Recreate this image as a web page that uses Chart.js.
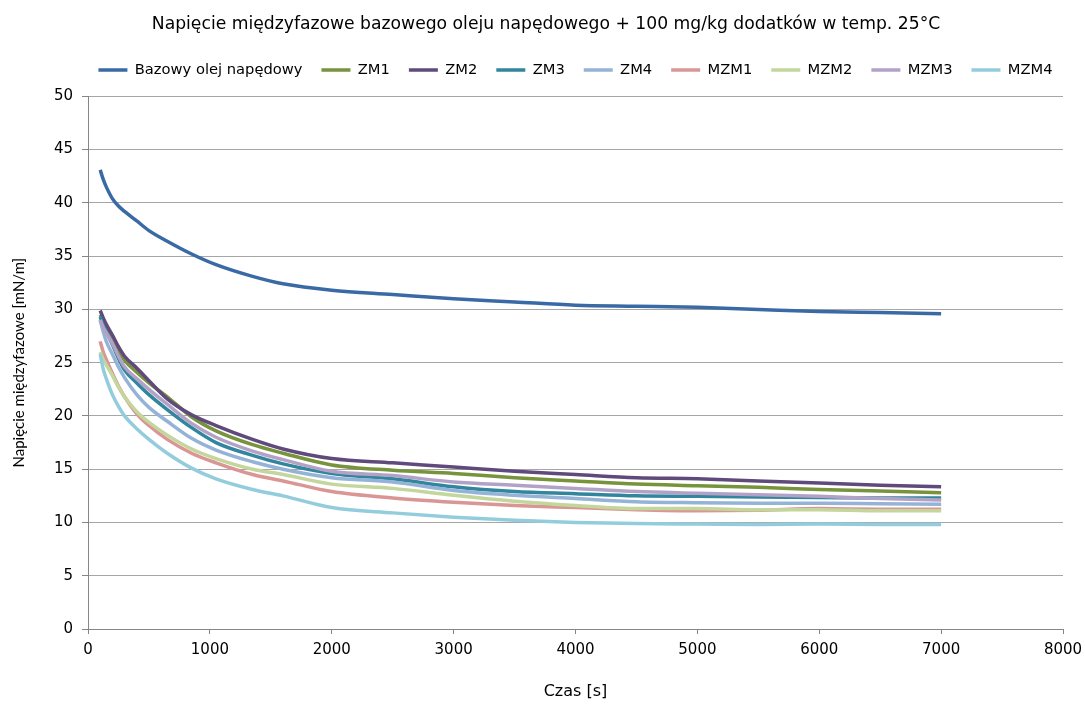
<!DOCTYPE html>
<html>
<head>
<meta charset="utf-8">
<script src="https://cdn.jsdelivr.net/npm/chart.js@4"></script>
<style>
  html, body { margin: 0; padding: 0; background: #fff; }
  #wrap { width: 1085px; height: 705px; }
</style>
</head>
<body>
<div id="wrap"><canvas id="chart" width="1085" height="705"></canvas></div>
<script>
// czas pomiaru [s]
const czas = [100, 125, 150, 200, 250, 300, 400, 500, 650, 850, 1050, 1350, 1600, 2000, 2500, 3000, 3500, 4000, 4500, 5000, 5500, 6000, 6500, 7000];

const bazowy = [43.1, 42.2, 41.5, 40.4, 39.7, 39.2, 38.3, 37.4, 36.4, 35.2, 34.2, 33.1, 32.4, 31.8, 31.4, 31.0, 30.7, 30.4, 30.3, 30.2, 30.0, 29.8, 29.7, 29.6];
const zm1 = [29.5, 28.9, 28.3, 27.3, 26.1, 25.2, 24.1, 23.1, 21.8, 19.9, 18.6, 17.3, 16.5, 15.4, 14.9, 14.6, 14.2, 13.9, 13.6, 13.45, 13.3, 13.1, 12.95, 12.8];
const zm2 = [29.9, 29.2, 28.6, 27.6, 26.5, 25.6, 24.5, 23.3, 21.6, 20.1, 19.1, 17.8, 16.9, 16.0, 15.6, 15.2, 14.8, 14.5, 14.2, 14.1, 13.9, 13.7, 13.5, 13.35];
const zm3 = [29.3, 28.5, 27.9, 26.7, 25.4, 24.3, 23.1, 22.0, 20.6, 18.9, 17.5, 16.3, 15.5, 14.6, 14.1, 13.35, 12.9, 12.7, 12.5, 12.45, 12.4, 12.35, 12.3, 12.3];
const zm4 = [29.0, 27.9, 27.0, 25.8, 24.6, 23.6, 22.0, 20.8, 19.5, 17.9, 16.8, 15.7, 15.0, 14.2, 13.8, 13.0, 12.55, 12.25, 11.95, 11.85, 11.8, 11.8, 11.75, 11.7];
const mzm1 = [27.0, 26.0, 25.3, 24.0, 22.8, 21.8, 20.2, 19.1, 17.8, 16.5, 15.6, 14.5, 13.9, 12.9, 12.3, 11.9, 11.6, 11.4, 11.2, 11.1, 11.15, 11.3, 11.25, 11.25];
const mzm2 = [26.0, 25.3, 24.8, 23.8, 22.7, 21.8, 20.4, 19.4, 18.2, 16.9, 16.0, 15.0, 14.5, 13.6, 13.2, 12.55, 12.0, 11.6, 11.3, 11.3, 11.2, 11.2, 11.1, 11.1];
const mzm3 = [29.0, 28.3, 27.8, 26.8, 25.6, 24.6, 23.5, 22.5, 21.1, 19.3, 18.0, 16.7, 15.9, 14.8, 14.4, 13.8, 13.5, 13.2, 12.9, 12.75, 12.6, 12.45, 12.25, 12.1];
const mzm4 = [25.8, 24.4, 23.5, 22.0, 20.9, 20.0, 18.8, 17.8, 16.5, 15.1, 14.1, 13.1, 12.5, 11.4, 10.9, 10.5, 10.2, 10.0, 9.9, 9.85, 9.8, 9.85, 9.8, 9.8];

const serie = [
    { label: 'Bazowy olej napędowy', data: bazowy, color: '#3A6AA6' },
    { label: 'ZM1', data: zm1, color: '#77933C' },
    { label: 'ZM2', data: zm2, color: '#604A7B' },
    { label: 'ZM3', data: zm3, color: '#31859C' },
    { label: 'ZM4', data: zm4, color: '#95B3D7' },
    { label: 'MZM1', data: mzm1, color: '#D99694' },
    { label: 'MZM2', data: mzm2, color: '#C3D69B' },
    { label: 'MZM3', data: mzm3, color: '#B3A2C7' },
    { label: 'MZM4', data: mzm4, color: '#93CDDD' }
];

const wideFont = '"DejaVu Sans", sans-serif';
const lato = 'Lato, "Open Sans", sans-serif';

const datasets = serie.map((s, i) => ({
    label: s.label,
    data: czas.map((t, k) => ({ x: t, y: s.data[k] })),
    borderColor: s.color,
    backgroundColor: s.color,
    borderWidth: 3.5,
    pointRadius: 0,
    pointStyle: 'line',
    cubicInterpolationMode: 'monotone',
    fill: false,
    order: serie.length - i   // kolejne serie rysowane na wierzchu
}));

// odstęp pod legendą + legenda wyśrodkowana nad obszarem wykresu
const legendGap = {
    id: 'legendGap',
    beforeInit(chart) {
        const fit = chart.legend.fit;
        chart.legend.fit = function () {
            fit.bind(chart.legend)();
            this.height += 9;
        };
    },
    beforeDraw(chart) {
        const area = chart.chartArea;
        const lg = chart.legend;
        const shift = (area.left + area.right) / 2 - (lg.left + lg.right) / 2;
        lg.left += shift;
        lg.right += shift;
        chart.titleBlock.left = 7;
        chart.titleBlock.right = chart.width;
    }
};

const ctx = document.getElementById('chart').getContext('2d');
new Chart(ctx, {
    type: 'line',
    data: { datasets },
    plugins: [legendGap],
    options: {
        responsive: false,
        animation: false,
        layout: { padding: { top: 14, right: 22, left: 0, bottom: 0 } },
        plugins: {
            title: {
                display: true,
                text: 'Napięcie międzyfazowe bazowego oleju napędowego + 100 mg/kg dodatków w temp. 25°C',
                color: '#000',
                font: { family: wideFont, size: 17.2, weight: 'normal' },
                padding: { top: 0, bottom: 9 }
            },
            legend: {
                display: true,
                labels: {
                    color: '#000',
                    font: { family: wideFont, size: 14.7 },
                    usePointStyle: true,
                    pointStyleWidth: 29,
                    boxHeight: 3,
                    padding: 19,
                    sort: (a, b) => a.datasetIndex - b.datasetIndex
                }
            },
            tooltip: { enabled: false }
        },
        scales: {
            x: {
                type: 'linear',
                min: 0,
                max: 8000,
                ticks: { stepSize: 1000, color: '#000', font: { family: wideFont, size: 15 }, padding: 7, callback: v => String(v) },
                grid: { display: true, drawOnChartArea: false, drawTicks: true, tickLength: 5, color: '#868686' },
                border: { color: '#868686', width: 1 },
                title: { display: true, text: 'Czas [s]', color: '#000', font: { family: wideFont, size: 16 }, padding: { top: 4, bottom: 4 } },
                afterFit: (scale) => { scale.height = 76; scale.paddingRight = 0; }
            },
            y: {
                min: 0,
                max: 50,
                ticks: { stepSize: 5, color: '#000', font: { family: wideFont, size: 15 }, padding: 9 },
                grid: { color: '#A6A6A6', lineWidth: 1, tickLength: 6, tickColor: '#868686' },
                border: { color: '#868686', width: 1 },
                title: { display: true, text: 'Napięcie międzyfazowe [mN/m]', color: '#000', font: { family: lato, size: 15 }, padding: { top: 10, bottom: 0 } },
                afterFit: (scale) => { scale.width = 88; }
            }
        }
    }
});
</script>
</body>
</html>
